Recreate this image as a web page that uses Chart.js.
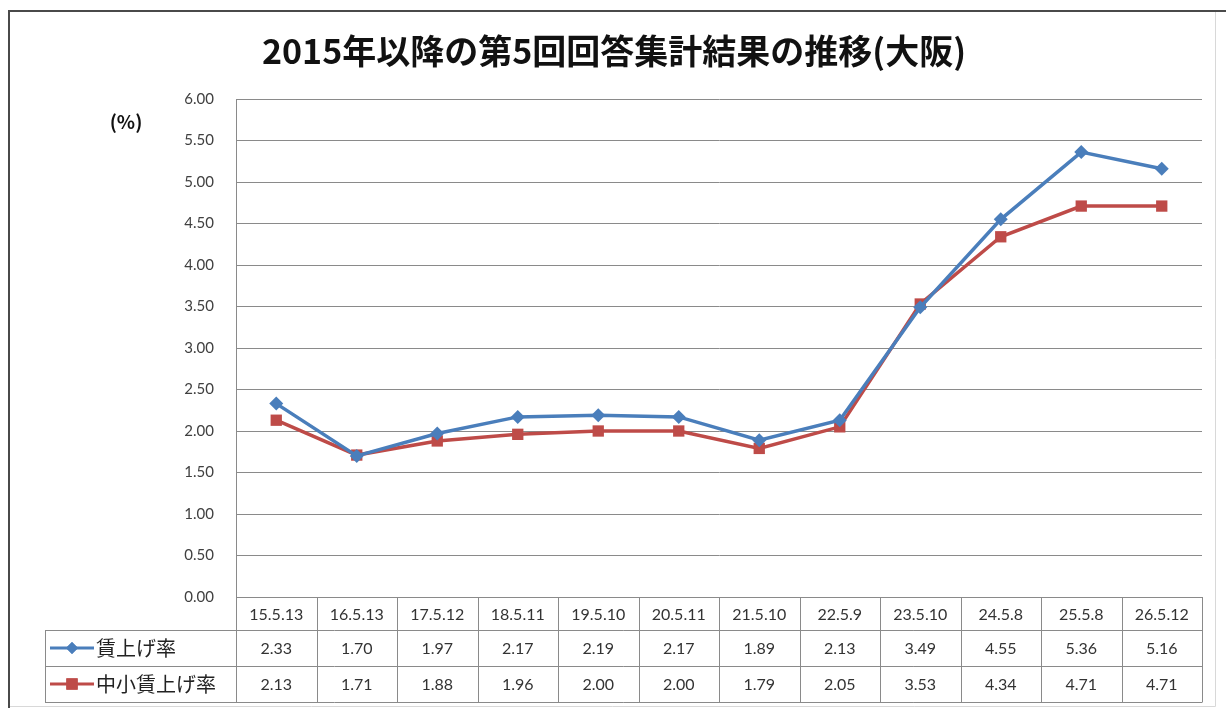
<!DOCTYPE html>
<html>
<head>
<meta charset="utf-8">
<script src="https://cdn.jsdelivr.net/npm/chart.js@4"></script>
<style>
html,body{margin:0;padding:0;background:#fff;}
canvas{display:block;}
</style>
</head>
<body>
<canvas id="c" width="1226" height="711"></canvas>
<script>
const chartTitle = '2015年以降の第5回回答集計結果の推移(大阪)';
const unitLabel = '(%)';
const categories = ['15.5.13','16.5.13','17.5.12','18.5.11','19.5.10','20.5.11','21.5.10','22.5.9','23.5.10','24.5.8','25.5.8','26.5.12'];
const seriesNames = ['賃上げ率','中小賃上げ率'];
const wageRate = [2.33,1.70,1.97,2.17,2.19,2.17,1.89,2.13,3.49,4.55,5.36,5.16];
const smeWageRate = [2.13,1.71,1.88,1.96,2.00,2.00,1.79,2.05,3.53,4.34,4.71,4.71];
const yTicks = [0,0.5,1,1.5,2,2.5,3,3.5,4,4.5,5,5.5,6];

const BLUE = '#4A7EBB';
const RED = '#BE4B48';
const GRID = '#8a8a8a';
const NUMFONT = 'Lato, "Liberation Sans", sans-serif';
const JPFONT = '"Noto Sans CJK JP", sans-serif';

const tablePlugin = {
  id: 'tablePlugin',
  afterDraw(chart) {
    const ctx = chart.ctx;
    const ca = chart.chartArea;
    const xs = chart.scales.x;
    const n = categories.length;
    const rowTop = ca.bottom;
    const r1 = 630, r2 = 666, r3 = 702;
    const tableLeft = 45;
    ctx.save();
    // frame
    ctx.strokeStyle = '#4a4a4a';
    ctx.lineWidth = 2;
    ctx.beginPath();
    ctx.moveTo(9, 708); ctx.lineTo(9, 11); ctx.lineTo(1226, 11);
    ctx.stroke();
    ctx.strokeStyle = '#d8d8d8';
    ctx.lineWidth = 1;
    ctx.beginPath();
    ctx.moveTo(1215.5, 12); ctx.lineTo(1215.5, 706.5); ctx.lineTo(10, 706.5);
    ctx.stroke();

    // title
    ctx.fillStyle = '#111';
    ctx.font = 'bold 34px ' + JPFONT;
    ctx.textAlign = 'center';
    ctx.textBaseline = 'middle';
    ctx.fillText(chartTitle, 614, 51);
    // unit
    ctx.font = 'bold 19px ' + JPFONT;
    ctx.fillText(unitLabel, 126, 122);

    // table lines
    ctx.strokeStyle = GRID;
    ctx.lineWidth = 1;
    const bounds = [];
    bounds.push(ca.left);
    for (let i = 0; i < n - 1; i++) {
      bounds.push((xs.getPixelForValue(i) + xs.getPixelForValue(i + 1)) / 2);
    }
    bounds.push(ca.right);
    ctx.beginPath();
    bounds.forEach(b => {
      const x = Math.round(b) + 0.5;
      ctx.moveTo(x, rowTop); ctx.lineTo(x, r3);
    });
    ctx.moveTo(tableLeft + 0.5, r1); ctx.lineTo(tableLeft + 0.5, r3);
    [r1, r2, r3].forEach(y => {
      ctx.moveTo(tableLeft, y + 0.5); ctx.lineTo(ca.right + 0.5, y + 0.5);
    });
    ctx.stroke();

    // values
    const rows = [wageRate, smeWageRate];
    const centers = [(r1 + r2) / 2, (r2 + r3) / 2];
    ctx.fillStyle = '#333';
    ctx.font = '16px ' + NUMFONT;
    ctx.textAlign = 'center';
    rows.forEach((arr, ri) => {
      arr.forEach((v, i) => {
        ctx.fillText(v.toFixed(2), xs.getPixelForValue(i), centers[ri] + 1);
      });
    });

    // legend keys
    const colors = [BLUE, RED];
    const styles = ['rectRot', 'rect'];
    const radii = [6, 8];
    centers.forEach((cy, ri) => {
      ctx.strokeStyle = colors[ri];
      ctx.lineWidth = 3;
      ctx.beginPath();
      ctx.moveTo(50, cy); ctx.lineTo(94, cy);
      ctx.stroke();
      ctx.fillStyle = colors[ri];
      Chart.helpers.drawPoint(ctx, {pointStyle: styles[ri], radius: radii[ri], borderWidth: 0}, 72, cy);
      ctx.fill();
      ctx.fillStyle = '#222';
      ctx.font = '20px ' + JPFONT;
      ctx.textAlign = 'left';
      ctx.fillText(seriesNames[ri], 96, cy);
    });
    ctx.restore();
  }
};

new Chart(document.getElementById('c'), {
  type: 'line',
  data: {
    labels: categories,
    datasets: [
      {
        label: seriesNames[0],
        data: wageRate,
        borderColor: BLUE,
        backgroundColor: BLUE,
        borderWidth: 3.5,
        pointStyle: 'rectRot',
        pointRadius: 7,
        pointBorderWidth: 0,
        tension: 0
      },
      {
        label: seriesNames[1],
        data: smeWageRate,
        borderColor: RED,
        backgroundColor: RED,
        borderWidth: 3.5,
        pointStyle: 'rect',
        pointRadius: 8,
        pointBorderWidth: 0,
        tension: 0
      }
    ]
  },
  options: {
    responsive: false,
    animation: false,
    devicePixelRatio: 1,
    layout: { padding: { left: 0, top: 99, right: 24, bottom: 0 } },
    plugins: {
      legend: { display: false },
      title: { display: false },
      tooltip: { enabled: false }
    },
    scales: {
      x: {
        type: 'category',
        offset: true,
        grid: { display: false, drawTicks: false },
        border: { display: true, color: GRID, width: 1 },
        ticks: {
          padding: 8,
          color: '#333',
          font: { family: NUMFONT, size: 16 },
          maxRotation: 0,
          autoSkip: false
        },
        afterFit(scale) { scale.height = 114; }
      },
      y: {
        min: 0,
        max: 6,
        afterBuildTicks(scale) { scale.ticks = yTicks.map(v => ({ value: v })); },
        grid: { color: GRID, lineWidth: 1, drawTicks: false },
        border: { display: true, color: GRID, width: 1 },
        ticks: {
          padding: 22,
          color: '#404040',
          font: { family: NUMFONT, size: 15 },
          callback: v => Number(v).toFixed(2)
        },
        afterFit(scale) { scale.width = 236; }
      }
    }
  },
  plugins: [tablePlugin]
});
</script>
</body>
</html>
